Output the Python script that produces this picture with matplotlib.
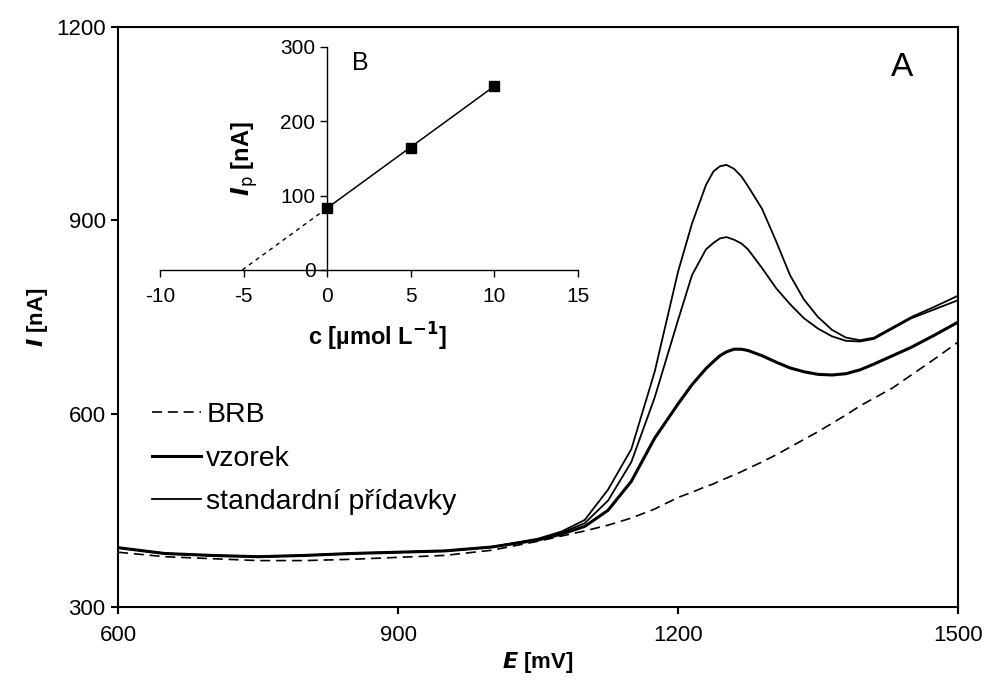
import numpy as np
import matplotlib
matplotlib.use("Agg")
import matplotlib.pyplot as plt

plt.rcParams["font.family"] = ["Liberation Sans", "DejaVu Sans"]
plt.rcParams["axes.unicode_minus"] = False

# potential axis (mV)
E = [600, 650, 700, 750, 800, 850, 900, 950, 1000, 1050, 1075, 1100, 1125,
     1150, 1175, 1200, 1215, 1230, 1238, 1245, 1252, 1260, 1268, 1275, 1290,
     1305, 1320, 1335, 1350, 1365, 1380, 1395, 1410, 1430, 1450, 1475, 1500]

brb = [385, 378, 375, 372, 372, 374, 377, 380, 388, 402, 410, 418, 427,
       438, 452, 470, 478, 487, 491, 496, 500, 505, 510, 515, 525,
       536, 548, 560, 572, 585, 598, 612, 624, 640, 660, 685, 711]

vzorek = [392, 383, 380, 378, 380, 383, 385, 387, 393, 404, 413, 425, 450,
          495, 562, 615, 645, 670, 681, 690, 696, 700, 700, 698, 690,
          680, 671, 665, 661, 660, 662, 668, 677, 690, 703, 722, 742]

std1 = [392, 383, 380, 378, 380, 383, 385, 387, 393, 405, 415, 430, 465,
        525, 625, 745, 815, 855, 865, 872, 874, 870, 864, 855, 826,
        795, 770, 748, 732, 720, 713, 712, 716, 732, 748, 762, 776]

std2 = [392, 383, 380, 378, 380, 383, 385, 387, 393, 406, 417, 435, 482,
        545, 665, 820, 895, 955, 976, 984, 986, 980, 968, 953, 918,
        868, 815, 777, 750, 730, 718, 714, 718, 734, 750, 766, 783]

# inset: standard addition
c_add = [0, 5, 10]
ip_add = [84, 164, 248]

fig = plt.figure(figsize=(9.87, 6.84), dpi=100)
ax = fig.add_axes([0.1196, 0.1126, 0.851, 0.8479])

ax.plot(E, brb, color="black", lw=1.2, dashes=(6, 3.5), label="BRB")
ax.plot(E, vzorek, color="black", lw=2.2, label="vzorek")
ax.plot(E, std1, color="black", lw=1.3, label="standardní přídavky")
ax.plot(E, std2, color="black", lw=1.3)

ax.set_xlim(600, 1500)
ax.set_ylim(300, 1200)
ax.set_xticks([600, 900, 1200, 1500])
ax.set_yticks([300, 600, 900, 1200])
ax.tick_params(direction="out", length=5, width=1.5, labelsize=16, pad=4)
ax.tick_params(axis="x", pad=8)
for sp in ax.spines.values():
    sp.set_linewidth(1.5)

ax.set_xlabel(r"$\bfit{E}$ [mV]", fontsize=16, fontweight="bold", labelpad=3)
ax.set_ylabel(r"$\bfit{I}$ [nA]", fontsize=16, fontweight="bold")

ax.text(0.933, 0.93, "A", transform=ax.transAxes, fontsize=24,
        ha="center", va="center")

ax.legend(loc="upper left", bbox_to_anchor=(0.027, 0.373), frameon=False,
          fontsize=20.5, handlelength=1.7, handletextpad=0.2,
          labelspacing=0.62, borderaxespad=0)

# inset B
ins = fig.add_axes([0.1621, 0.6053, 0.4235, 0.326])
ins.patch.set_alpha(0)
ins.plot(c_add, ip_add, "s", color="black", ms=7)
k, q = np.polyfit(c_add, ip_add, 1)
c0 = -q / k
ins.plot([0, max(c_add)], [q, k * max(c_add) + q], color="black", lw=1.1)
ins.plot([c0, 0], [0, q], color="black", lw=1.0, dashes=(3, 3))

ins.set_xlim(-10, 15)
ins.set_ylim(0, 300)
ins.set_xticks([-10, -5, 0, 5, 10, 15])
ins.set_yticks([0, 100, 200, 300])
ins.spines["left"].set_position(("data", 0))
ins.spines["right"].set_visible(False)
ins.spines["top"].set_visible(False)
ins.spines["left"].set_linewidth(1.0)
ins.spines["bottom"].set_linewidth(1.0)
ins.tick_params(direction="out", length=5, width=1.0, labelsize=15)
ins.tick_params(axis="x", pad=7)

ins.set_xlabel(r"c [µmol L$^{\mathbf{-1}}$]", fontsize=17, fontweight="bold")
ins.xaxis.set_label_coords(0.52, -0.23)
ins.set_ylabel(r"$\bfit{I}_{\mathrm{p}}$ [nA]", fontsize=17, fontweight="bold")
ins.yaxis.set_label_coords(0.24, 0.5)
ins.text(2.0, 278, "B", fontsize=18, ha="center", va="center")

fig.savefig("out.png", dpi=100)
